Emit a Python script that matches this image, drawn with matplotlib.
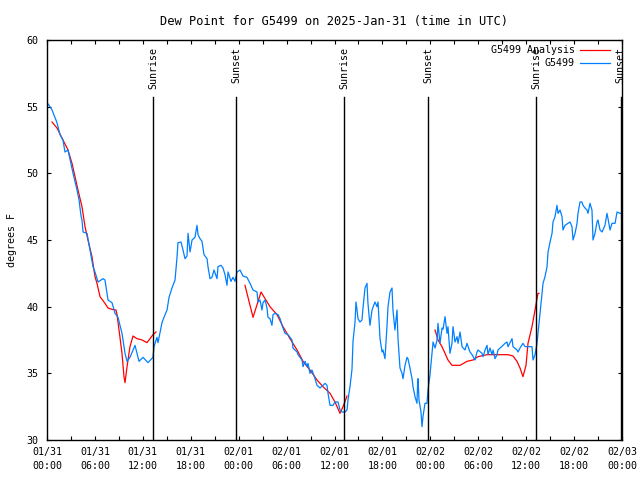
import matplotlib
matplotlib.use('Agg')
import numpy as np
import matplotlib.pyplot as plt

# observations, hours since 2025-01-31 00:00 UTC
obs_t = [0.00, 0.38, 0.63, 1.25, 1.63, 2.00, 2.25, 2.63, 3.26, 3.76, 4.01, 4.26, 4.38, 4.51,
         5.01, 5.38, 5.76, 6.01, 6.39, 7.01, 7.26, 7.64, 8.14, 8.52, 8.89, 9.39, 9.77, 10.02,
         10.39, 11.02, 11.52, 12.02, 12.65, 13.27, 13.40, 13.77, 13.90, 14.40, 14.65, 15.03,
         15.28, 15.65, 16.03, 16.28, 16.40, 16.78, 17.03, 17.28, 17.53, 17.66, 17.91, 18.16,
         18.53, 18.78, 18.91, 19.16, 19.41, 19.66, 20.04, 20.16, 20.41, 20.66, 20.91, 21.29,
         21.41, 21.79, 22.04, 22.29, 22.54, 22.67, 23.04, 23.29, 23.54, 23.79, 24.17, 24.54,
         25.04, 25.42, 25.80, 26.30, 26.42, 26.67, 26.92, 27.05, 27.30, 27.55, 27.67, 27.92,
         28.17, 28.30, 28.55, 28.93, 29.18, 29.43, 29.80, 30.18, 30.68, 30.80, 31.31, 31.43,
         31.93, 32.06, 32.31, 32.56, 32.68, 32.93, 33.18, 33.56, 33.81, 34.19, 34.56, 34.81,
         35.06, 35.19, 35.44, 35.81, 36.06, 36.44, 36.69, 36.94, 37.32, 37.57, 37.69, 37.94,
         38.19, 38.32, 38.57, 38.69, 38.82, 38.94, 39.19, 39.44, 39.57, 39.82, 40.07, 40.19,
         40.44, 40.70, 41.07, 41.32, 41.45, 41.70, 41.95, 42.07, 42.32, 42.57, 42.70, 42.95,
         43.20, 43.32, 43.57, 43.83, 43.95, 44.20, 44.45, 44.58, 44.83, 45.08, 45.20, 45.45,
         45.71, 45.83, 46.08, 46.33, 46.40, 46.46, 46.58, 46.83, 46.96, 47.08, 47.33, 47.58,
         47.71, 47.96, 48.34, 48.59, 48.84, 48.96, 49.21, 49.46, 49.59, 49.84, 50.09, 50.21,
         50.46, 50.71, 50.84, 51.09, 51.34, 51.47, 51.72, 51.97, 52.34, 52.59, 52.97, 53.22,
         53.59, 53.84, 53.97, 54.47, 54.60, 54.85, 55.10, 55.22, 55.47, 55.72, 55.85, 56.10,
         56.35, 56.47, 56.73, 57.10, 57.35, 57.60, 57.73, 58.23, 58.35, 58.85, 58.98, 59.23,
         59.60, 59.86, 60.23, 60.73, 60.86, 61.11, 61.36, 61.48, 61.74, 61.99, 62.11, 62.36,
         62.61, 62.74, 62.99, 63.24, 63.36, 63.61, 63.86, 63.99, 64.24, 64.49, 64.61, 64.86,
         65.24, 65.49, 65.74, 65.87, 66.12, 66.37, 66.49, 66.74, 66.99, 67.12, 67.37, 67.62,
         67.74, 67.99, 68.24, 68.37, 68.62, 68.87, 68.99, 69.25, 69.50, 69.87, 70.12, 70.25,
         70.50, 70.75, 71.13, 71.38, 71.75, 72.00]
obs_v = [55.3, 55.0, 54.75, 53.8, 52.9, 52.5, 51.6, 51.75, 50.0, 48.75, 48.0, 46.8, 46.5, 45.6,
         45.5, 44.25, 43.0, 42.6, 41.85, 42.1, 42.0, 40.5, 40.3, 39.5, 39.2, 38.0, 36.5, 35.9,
         36.2, 37.1, 35.9, 36.2, 35.8, 36.2, 37.0, 37.7, 37.3, 38.8, 39.2, 39.75,
         40.7, 41.4, 42.0, 43.7, 44.8, 44.85, 44.25, 43.6, 43.8, 45.5, 44.1, 45.0,
         45.2, 46.1, 45.4, 45.1, 44.9, 43.9, 43.6, 43.0, 42.1, 42.2, 42.75, 42.1,
         43.0, 43.1, 42.9, 42.4, 41.6, 42.6, 41.9, 42.2, 41.9, 42.6, 42.75, 42.3,
         42.2, 41.75, 41.25, 41.1, 40.35, 40.5, 39.75, 40.3, 40.5, 39.9, 39.2, 39.1,
         38.6, 39.4, 39.5, 39.4, 39.1, 38.6, 38.0, 37.9, 37.5, 36.9, 36.6, 36.4,
         36.0, 35.5, 35.9, 35.5, 35.75, 35.0, 35.25, 34.6, 34.1, 33.9, 34.1, 34.25,
         34.1, 33.5, 32.6, 32.6, 32.85, 32.85, 32.25, 32.1, 32.1, 32.25, 33.0, 34.0,
         35.3, 37.4, 38.85, 40.35, 39.75, 39.1, 38.85, 39.0, 39.9, 41.4, 41.75, 40.25,
         38.6, 39.75, 40.35, 40.0, 40.35, 37.6, 36.6, 36.75, 36.1, 38.5, 40.0, 41.1,
         41.4, 39.75, 38.25, 39.75, 37.6, 35.4, 35.0, 34.6, 35.6, 36.2, 36.1, 35.4,
         34.6, 34.0, 33.25, 32.75, 34.1, 34.6, 33.0, 32.1, 31.0, 31.75, 32.75, 32.75,
         33.75, 34.9, 37.35, 36.9, 37.5, 38.75, 37.25, 38.4, 38.3, 39.25, 38.0, 38.5,
         36.5, 37.25, 38.5, 37.35, 37.75, 37.25, 38.1, 37.0, 36.75, 37.25, 36.6, 36.4,
         36.0, 36.6, 36.75, 36.5, 36.25, 36.75, 37.1, 36.4, 36.9, 36.4, 36.75, 36.1,
         36.4, 36.75, 36.9, 37.1, 37.25, 37.35, 37.0, 37.6, 37.0, 36.75, 36.6, 36.9,
         37.25, 37.0, 37.0, 37.0, 36.0, 36.4, 37.25, 38.0, 39.5, 41.0, 41.75, 42.25,
         43.0, 44.1, 44.85, 45.5, 46.35, 46.75, 47.6, 47.0, 47.25, 46.75, 45.75, 46.1,
         46.25, 46.35, 46.0, 45.0, 45.5, 46.25, 47.0, 47.85, 47.85, 47.6, 47.4, 47.25,
         47.0, 47.75, 47.25, 45.0, 45.5, 46.35, 46.5, 45.75, 45.6, 46.1, 47.0, 46.6,
         45.75, 46.25, 46.25, 47.1, 47.0, 47.0]

# analysis, three pieces
ana1_t = [0.63, 1.25, 2.00, 2.63, 3.13, 3.51, 3.88, 4.38, 4.76, 5.13, 5.63, 6.01, 6.26, 6.64,
          7.26, 7.64, 8.14, 8.64, 8.77, 9.02, 9.39, 9.64, 9.77, 10.02, 10.39, 10.77, 11.27,
          11.90, 12.52, 12.90, 13.27, 13.65]
ana1_v = [53.85, 53.4, 52.5, 51.75, 50.75, 49.75, 48.75, 47.5, 46.0, 45.0, 43.75, 42.25, 41.75,
          40.75, 40.25, 39.9, 39.8, 39.75, 39.4, 38.25, 36.5, 34.75, 34.3, 35.5, 37.0, 37.8,
          37.6, 37.5, 37.3, 37.6, 37.9, 38.1]
ana2_t = [24.79, 25.80, 26.80, 27.92, 28.80, 29.55, 30.43, 31.31, 32.06, 32.93, 33.81, 34.56,
          35.44, 36.06, 36.69, 37.07, 37.57]
ana2_v = [41.6, 39.2, 41.1, 40.0, 39.4, 38.5, 37.6, 36.75, 35.9, 35.25, 34.5, 34.0, 33.5,
          32.85, 32.0, 32.5, 33.3]
ana3_t = [48.59, 48.96, 49.46, 49.84, 50.21, 50.71, 51.72, 52.59, 53.34, 53.97, 55.10, 56.35,
          57.73, 58.35, 58.85, 59.23, 59.60, 59.98, 60.23, 60.73, 61.11, 61.48, 61.60]
ana3_v = [38.25, 37.5, 37.0, 36.5, 36.0, 35.6, 35.6, 35.9, 36.0, 36.25, 36.4, 36.4,
          36.4, 36.3, 35.9, 35.4, 34.75, 35.6, 37.25, 38.5, 39.75, 41.0, 41.0]

sun_t = [13.27, 23.67, 37.19, 47.71, 61.23, 71.85]
sun_lab = ['Sunrise', 'Sunset', 'Sunrise', 'Sunset', 'Sunrise', 'Sunset']

tick_h = [0, 6, 12, 18, 24, 30, 36, 42, 48, 54, 60, 66, 72]
tick_lab = ['01/31\n00:00', '01/31\n06:00', '01/31\n12:00', '01/31\n18:00',
            '02/01\n00:00', '02/01\n06:00', '02/01\n12:00', '02/01\n18:00',
            '02/02\n00:00', '02/02\n06:00', '02/02\n12:00', '02/02\n18:00',
            '02/03\n00:00']

plt.rcParams['font.family'] = 'DejaVu Sans Mono'
plt.rcParams['font.size'] = 7.2

fig = plt.figure(figsize=(6.4, 4.8), dpi=100)
ax = fig.add_axes([47/640, 40/480, 575/640, 400/480])

red = '#ff0000'
blue = '#0080ff'
for t, v in [(ana1_t, ana1_v), (ana2_t, ana2_v), (ana3_t, ana3_v)]:
    ax.plot(t, v, color=red, lw=0.9)
ax.plot(obs_t, obs_v, color=blue, lw=0.9)

for t, lab in zip(sun_t, sun_lab):
    ax.axvline(t, ymin=0, ymax=0.857, color='black', lw=1.0)
    ax.text(t, 0.982, lab, transform=ax.get_xaxis_transform(), rotation=90,
            ha='center', va='top')

# legend, gnuplot style
ax.text(0.918, 0.975, 'G5499 Analysis', transform=ax.transAxes, ha='right', va='center')
ax.plot([0.927, 0.979], [0.975, 0.975], transform=ax.transAxes, color=red, lw=0.9)
ax.text(0.918, 0.9425, 'G5499', transform=ax.transAxes, ha='right', va='center')
ax.plot([0.927, 0.979], [0.9425, 0.9425], transform=ax.transAxes, color=blue, lw=0.9)

ax.set_xlim(0, 72)
ax.set_ylim(30, 60)
ax.set_xticks(tick_h)
ax.set_xticklabels(tick_lab, linespacing=1.5)
ax.set_xticks(np.arange(3, 72, 6), minor=True)
ax.set_yticks(range(30, 61, 5))
ax.tick_params(which='both', direction='in', top=True, right=True, length=3, width=0.8)
ax.tick_params(axis='x', pad=5)
ax.tick_params(axis='y', pad=6)
for s in ax.spines.values():
    s.set_linewidth(1.0)

ax.set_title('Dew Point for G5499 on 2025-Jan-31 (time in UTC)', pad=11)
ax.set_ylabel('degrees F', labelpad=7)

fig.savefig('out.png', dpi=100)
